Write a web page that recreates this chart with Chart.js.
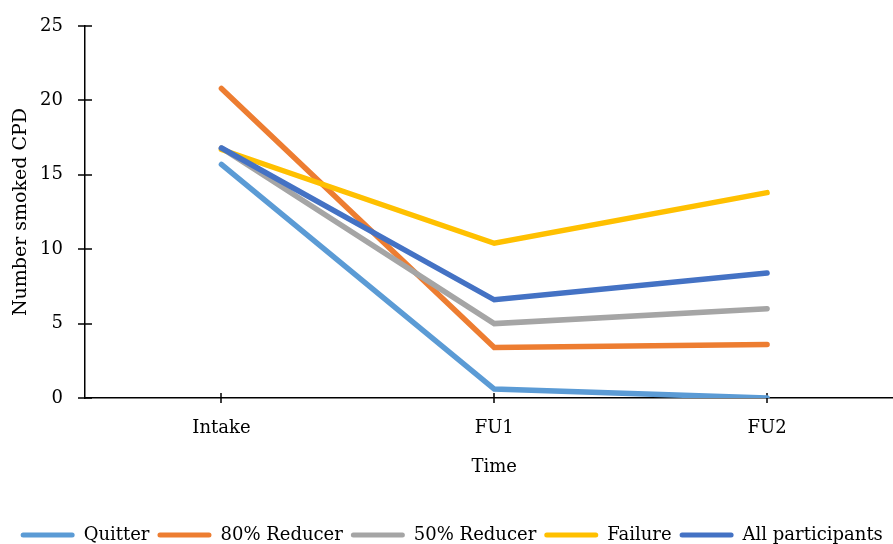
<!DOCTYPE html>
<html><head><meta charset="utf-8">
<script src="https://cdn.jsdelivr.net/npm/chart.js@4"></script>
<style>html,body{margin:0;padding:0;overflow:hidden;background:#fff;width:893px;height:544px}canvas{display:block}</style>
</head><body><canvas id="c" width="910" height="554"></canvas>
<script>
const categories = ['Intake', 'FU1', 'FU2'];
const seriesNames = ['Quitter', '80% Reducer', '50% Reducer', 'Failure', 'All participants'];
const quitter = [15.7, 0.6, 0.0];
const reducer80 = [20.8, 3.4, 3.6];
const reducer50 = [16.8, 5.0, 6.0];
const failure = [16.7, 10.4, 13.8];
const allParticipants = [16.8, 6.6, 8.4];
const yTicks = [0, 5, 10, 15, 20, 25];
const colors = ['#5B9BD5', '#ED7D31', '#A5A5A5', '#FFC000', '#4472C4'];
const FONT = 'DejaVu Serif';

const seriesValues = [quitter, reducer80, reducer50, failure, allParticipants];

const tickMarks = {
  id: 'tickMarks',
  beforeDatasetsDraw(chart) {
    const ctx = chart.ctx, xs = chart.scales.x, ys = chart.scales.y;
    ctx.save();
    ctx.strokeStyle = '#000';
    ctx.lineWidth = 1.5;
    ctx.beginPath();
    ys.ticks.forEach((t, i) => {
      const py = Math.round(ys.getPixelForTick(i));
      ctx.moveTo(xs.left - 7, py); ctx.lineTo(xs.left + 7, py);
    });
    xs.ticks.forEach((t, i) => {
      const px = Math.round(xs.getPixelForTick(i));
      ctx.moveTo(px, ys.bottom - 5); ctx.lineTo(px, ys.bottom + 5);
    });
    ctx.stroke();
    ctx.restore();
  }
};

new Chart(document.getElementById('c'), {
  type: 'line',
  data: {
    labels: categories,
    datasets: seriesNames.map((name, i) => ({
      label: name,
      data: seriesValues[i],
      borderColor: colors[i],
      backgroundColor: colors[i],
      borderWidth: 5.5,
      borderCapStyle: 'round',
      borderJoinStyle: 'miter',
      pointRadius: 0,
      tension: 0,
      fill: false,
      order: seriesNames.length - i
    }))
  },
  options: {
    responsive: false,
    animation: false,
    layout: { padding: { top: 26, left: 0, right: 6.5, bottom: 0 } },
    plugins: {
      tooltip: { enabled: false },
      legend: {
        position: 'bottom',
        labels: {
          font: { family: FONT, size: 18 },
          color: '#000',
          boxWidth: 54,
          boxHeight: 5,
          padding: 8,
          useBorderRadius: true,
          borderRadius: 2.5,
          sort: (a, b) => a.datasetIndex - b.datasetIndex,
          generateLabels(chart) {
            const items = Chart.defaults.plugins.legend.labels.generateLabels(chart);
            items.forEach(it => { it.lineWidth = 0; it.fillStyle = it.strokeStyle; });
            return items;
          }
        }
      }
    },
    scales: {
      x: {
        type: 'category',
        offset: true,
        grid: { display: false, drawTicks: false, offset: false },
        border: { display: true, color: '#000', width: 1.5 },
        ticks: { font: { family: FONT, size: 18 }, color: '#000', padding: 20, maxRotation: 0 },
        title: { display: true, text: 'Time', font: { family: FONT, size: 18 }, color: '#000', padding: { top: 15, bottom: 40 } },
        afterFit(s) { s.height = 120; }
      },
      y: {
        min: 0, max: 25,
        afterBuildTicks(s) { s.ticks = yTicks.map(v => ({ value: v })); },
        grid: { display: false, drawTicks: true, tickLength: 18 },
        border: { display: true, color: '#000', width: 1.5 },
        ticks: { font: { family: FONT, size: 18 }, color: '#000', padding: 4 },
        title: { display: true, text: 'Number smoked CPD', font: { family: FONT, size: 19 }, color: '#000', padding: { top: 10, bottom: 0 } },
        afterFit(s) { s.width = 85; }
      }
    }
  },
  plugins: [tickMarks]
});
</script>
</body></html>
